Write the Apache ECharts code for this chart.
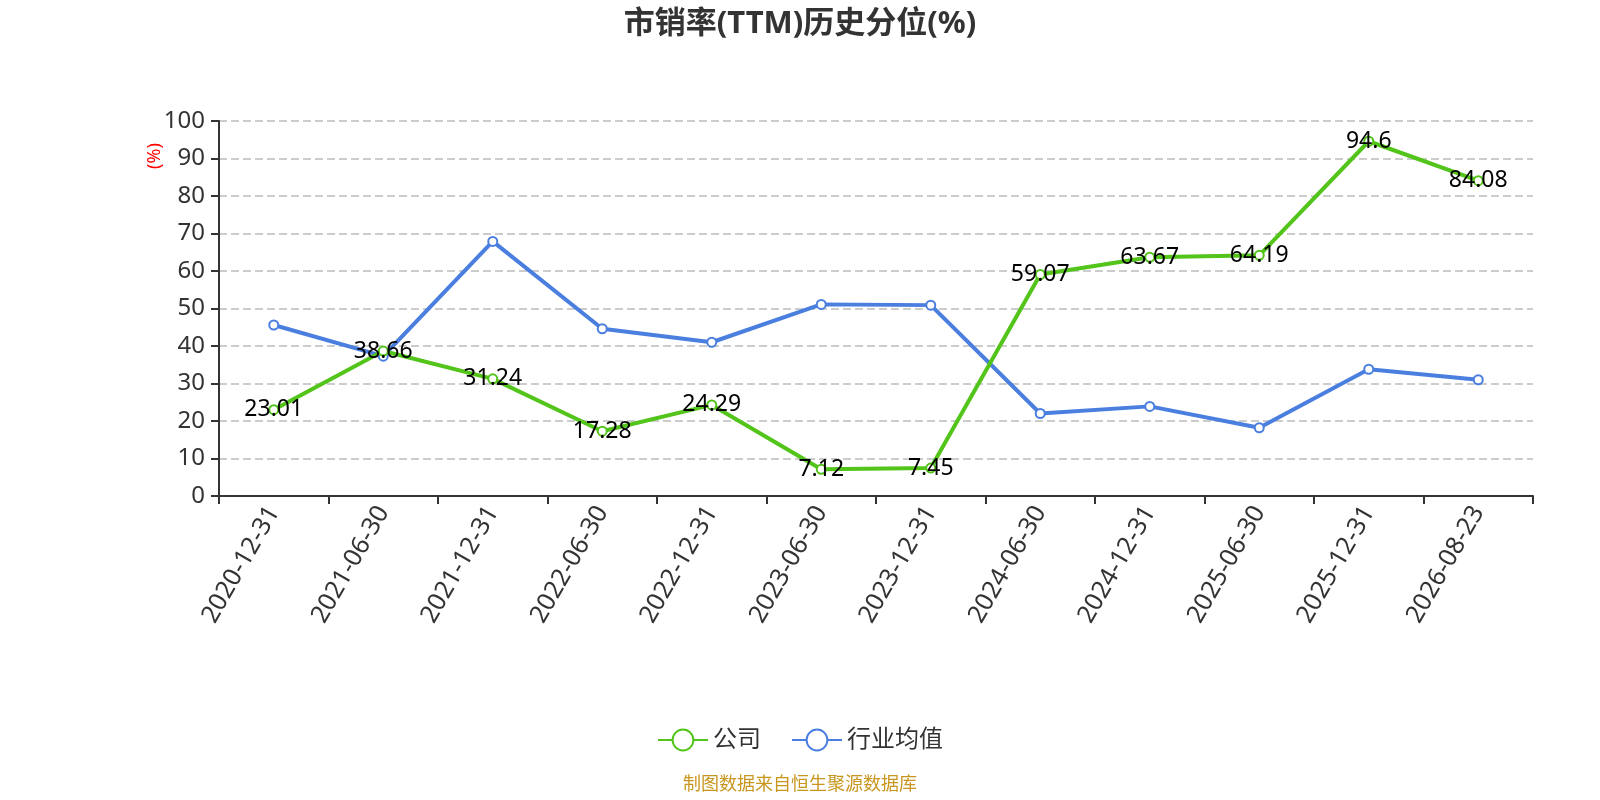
<!DOCTYPE html>
<html>
<head>
<meta charset="utf-8">
<script src="https://cdn.jsdelivr.net/npm/echarts@6/dist/echarts.min.js"></script>
<style>
  html, body { margin: 0; padding: 0; background: #fff; }
  #chart { width: 1600px; height: 800px; }
</style>
</head>
<body>
<div id="chart"></div>
<script>
var dates = ['2020-12-31', '2021-06-30', '2021-12-31', '2022-06-30', '2022-12-31', '2023-06-30',
             '2023-12-31', '2024-06-30', '2024-12-31', '2025-06-30', '2025-12-31', '2026-08-23'];
var company = [23.01, 38.66, 31.24, 17.28, 24.29, 7.12, 7.45, 59.07, 63.67, 64.19, 94.6, 84.08];
var industry = [45.6, 37.3, 67.9, 44.6, 41.0, 51.1, 50.9, 22.0, 23.9, 18.2, 33.8, 31.0];

var font = 'Noto Sans, Noto Sans CJK SC, sans-serif';

var myChart = echarts.init(document.getElementById('chart'));
myChart.setOption({
    textStyle: { fontFamily: font },
    title: {
        text: '市销率(TTM)历史分位(%)',
        left: 'center',
        top: 4,
        textStyle: { fontSize: 31, fontWeight: 'bold', color: '#333', fontFamily: font }
    },
    legend: {
        top: 723,
        left: 'center',
        itemWidth: 50,
        itemHeight: 26,
        itemGap: 30,
        textStyle: { fontSize: 24, color: '#333' },
        data: ['公司', '行业均值']
    },
    graphic: [
        {
            type: 'text',
            left: 'center',
            top: 776,
            style: { text: '制图数据来自恒生聚源数据库', fill: '#c8961e', fontSize: 18, fontFamily: font }
        },
        {
            // y 轴单位
            type: 'text',
            x: 155,
            y: 156,
            rotation: Math.PI / 2,
            style: { text: '(%)', fill: 'red', fontSize: 18, fontFamily: font, align: 'center', verticalAlign: 'middle' }
        }
    ],
    grid: { left: 219, right: 67, top: 121, bottom: 304 },
    xAxis: {
        type: 'category',
        data: dates,
        boundaryGap: true,
        axisLine: { lineStyle: { color: '#333', width: 2 } },
        axisTick: { show: true, length: 8, lineStyle: { color: '#333', width: 2 } },
        axisLabel: { rotate: 60, fontSize: 25, color: '#333', margin: 12 }
    },
    yAxis: {
        type: 'value',
        min: 0,
        max: 100,
        interval: 10,
        axisLine: { show: true, lineStyle: { color: '#333', width: 2 } },
        axisTick: { show: true, length: 8, lineStyle: { color: '#333', width: 2 } },
        axisLabel: { fontSize: 24, color: '#333', margin: 14 },
        splitLine: { lineStyle: { color: '#ccc', type: 'dashed', width: 2 } }
    },
    series: [
        {
            name: '公司',
            type: 'line',
            data: company,
            symbol: 'emptyCircle',
            symbolSize: 9,
            itemStyle: { color: '#52c41a', borderWidth: 2 },
            lineStyle: { width: 4, color: '#52c41a' },
            label: { show: true, position: 'inside', fontSize: 23, color: '#000' },
            z: 3
        },
        {
            name: '行业均值',
            type: 'line',
            data: industry,
            symbol: 'emptyCircle',
            symbolSize: 9,
            itemStyle: { color: '#4a7fe0', borderWidth: 2 },
            lineStyle: { width: 4, color: '#4a7fe0' },
            z: 2
        }
    ]
});
</script>
</body>
</html>
